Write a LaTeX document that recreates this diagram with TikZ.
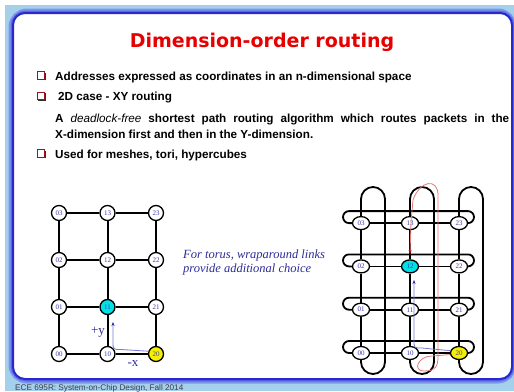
\documentclass[tikz,border=0pt]{standalone}
\usepackage{fontspec}
\setmainfont{Liberation Sans}
\newfontfamily\serifnum{Liberation Serif}
\newfontfamily\titlefont{DejaVu Sans}
\usetikzlibrary{shapes.geometric,arrows.meta,shadows}
\definecolor{bgblue}{RGB}{165,208,236}
\definecolor{glowA}{RGB}{125,150,236}
\definecolor{glowB}{RGB}{90,105,230}
\definecolor{panelblue}{RGB}{40,40,205}
\definecolor{titlered}{RGB}{230,0,0}
\definecolor{bulred}{RGB}{150,20,30}
\definecolor{lbl}{RGB}{60,60,170}
\definecolor{itblue}{RGB}{45,45,150}
\definecolor{cyanfill}{RGB}{0,225,230}
\definecolor{yelfill}{RGB}{245,240,0}
\definecolor{pathblue}{RGB}{120,120,215}
\definecolor{tipblue}{RGB}{30,30,170}
\definecolor{pathred}{RGB}{230,120,120}
\definecolor{tipred}{RGB}{215,0,0}
\definecolor{footgray}{RGB}{60,60,70}
\pgfdeclarelayer{back}
\pgfdeclarelayer{links}
\pgfsetlayers{back,links,main}
\begin{document}
\begin{tikzpicture}[x=1pt,y=1pt,
  mnode/.style={circle, draw=black, line width=1.3pt, minimum size=15pt, inner sep=0pt,
    font=\serifnum\fontsize{7}{7}\selectfont, text=lbl},
  tnode/.style={ellipse, draw=black, line width=1.3pt, minimum width=17pt, minimum height=13pt,
    inner sep=0pt, font=\serifnum\fontsize{7}{7}\selectfont, text=lbl},
  mlink/.style={line width=2pt, draw=black},
  tlink/.style={line width=1.8pt, draw=black},
  bultext/.style={anchor=base west, inner sep=0pt, font=\bfseries\fontsize{11.7}{14}\selectfont},
  bulbox/.style={rectangle, draw=bulred, fill=white, line width=0.9pt, minimum size=7.5pt, inner sep=0pt,
    drop shadow={shadow xshift=1.2pt, shadow yshift=-1.2pt, fill=black!80, opacity=1}},
  bluepath/.style={draw=pathblue, line width=0.8pt, -{Stealth[length=4pt,width=3pt,color=tipblue]}},
  redpath/.style={draw=pathred, line width=0.8pt, -{Stealth[length=4pt,width=3pt,color=tipred]}},
  note/.style={anchor=base west, inner sep=0pt, text=itblue, font=\serifnum\itshape\fontsize{12.5}{14}\selectfont},
  dirlabel/.style={inner sep=0pt, text=itblue, font=\serifnum\fontsize{13}{13}\selectfont}
]
\useasboundingbox (0,0) rectangle (514,-391);
\begin{pgfonlayer}{back}
\fill[white] (0,0) rectangle (514,-391);
\fill[bgblue] (5,-5) rectangle (514,-391);
\draw[glowA, line width=9pt, rounded corners=14pt] (13,-13) rectangle (512,-379);
\draw[glowB, line width=5pt, rounded corners=13pt] (13,-13) rectangle (512,-379);
\filldraw[fill=white, draw=panelblue, line width=2pt, rounded corners=12pt] (13,-13) rectangle (512,-379);
\end{pgfonlayer}

% title
\node[anchor=base, inner sep=0pt, text=titlered, font=\titlefont\bfseries\fontsize{19}{19}\selectfont] (title) at (262,-47) {Dimension-order routing};

% bullets
\node[bulbox] (b1) at (41,-75.5) {};
\node[bultext] (t1) at (55,-80) {Addresses expressed as coordinates in an n-dimensional space};
\node[bulbox] (b2) at (41,-96) {};
\node[bultext] (t2) at (58,-100.5) {2D case - XY routing};
\node[bultext] (t3) at (55,-122.5) {\makebox[454pt][s]{A {\mdseries\itshape deadlock-free} shortest path routing algorithm which routes packets in the}};
\node[bultext] (t4) at (55,-138) {X-dimension first and then in the Y-dimension.};
\node[bulbox] (b3) at (41,-153.5) {};
\node[bultext] (t5) at (55,-158) {Used for meshes, tori, hypercubes};

% mesh nodes
\foreach \i/\j/\c in {0/0/white,0/1/white,0/2/white,0/3/white,
                      1/0/white,1/1/cyanfill,1/2/white,1/3/white,
                      2/0/yelfill,2/1/white,2/2/white,2/3/white}
  \node[mnode, fill=\c] (m\i\j) at ({59+48.5*\i},{-354+47*\j}) {\i\j};

% torus nodes
\foreach \i/\j/\c in {0/0/white,0/1/white,0/2/white,0/3/white,
                      1/0/white,1/1/white,1/2/cyanfill,1/3/white,
                      2/0/yelfill,2/1/white,2/2/white,2/3/white}
  \node[tnode, fill=\c] (t\i\j) at ({361+49*\i},{-353+43.3*\j}) {\i\j};

\begin{pgfonlayer}{links}
% mesh links
\foreach \i in {0,1,2}
  \foreach \j/\k in {0/1,1/2,2/3}
    \draw[mlink] (m\i\j) -- (m\i\k);
\foreach \i/\k in {0/1,1/2}
  \foreach \j in {0,1,2,3}
    \draw[mlink] (m\i\j) -- (m\k\j);
% torus mesh links
\foreach \i in {0,1,2}
  \foreach \j/\k in {0/1,1/2,2/3}
    \draw[tlink] (t\i\j) -- (t\i\k);
\foreach \i/\k in {0/1,1/2}
  \foreach \j in {0,1,2,3}
    \draw[tlink] (t\i\j) -- (t\k\j);
% vertical wraparound loops
\foreach \i in {0,1,2}
  \draw[tlink] (t\i3.north) -- ({361+49*\i},-199) arc[start angle=180, end angle=0, radius=12]
     -- ({385+49*\i},-362) arc[start angle=0, end angle=-180, radius=12] -- (t\i0.south);
% horizontal wraparound loops
\foreach \j in {0,1,2,3}
  \draw[tlink] (t0\j.west) -- (349,{-353+43.3*\j}) arc[start angle=270, end angle=90, radius=6]
     -- (468,{-341+43.3*\j}) arc[start angle=90, end angle=-90, radius=6] -- (t2\j.east);
\end{pgfonlayer}

% mesh routing path
\coordinate (mtip) at (113,-322);
\draw[bluepath] (m20.160) -- (121,-349.5) .. controls (113,-349.5) .. (113,-341) -- (mtip);
\node[dirlabel] (plusy) at (98,-332) {+y};
\node[dirlabel] (minusx) at (133,-364) {-x};

% note
\node[note] (note1) at (183,-258) {For torus, wraparound links};
\node[note] (note2) at (183,-272) {provide additional choice};

% torus routing paths
\coordinate (ttip) at (414,-280);
\draw[bluepath] (t20.165) -- (422,-348) .. controls (414,-348) .. (414,-340) -- (ttip);
\coordinate (rtip) at (410,-254);
\draw[redpath] (t20.190) -- (432,-356) .. controls (418,-356) and (412,-371) .. (424,-371)
   .. controls (436,-371) and (438,-366) .. (438,-356) -- (438,-195)
   .. controls (438,-178) and (420,-180) .. (413,-200) -- (411,-222) -- (rtip);

% footer
\node[anchor=base west, inner sep=0pt, text=footgray, font=\fontsize{8.2}{9}\selectfont] (foot) at (15,-390) {ECE 695R: System-on-Chip Design, Fall 2014};
\end{tikzpicture}
\end{document}
